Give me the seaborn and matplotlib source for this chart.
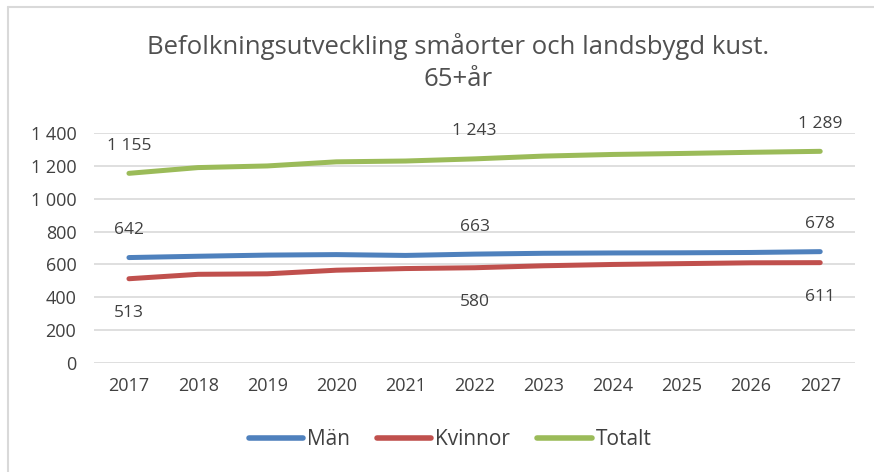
import pandas as pd
import seaborn as sns
import matplotlib.pyplot as plt
from matplotlib.lines import Line2D

years = [2017, 2018, 2019, 2020, 2021, 2022, 2023, 2024, 2025, 2026, 2027]
man = [642, 650, 657, 660, 655, 663, 668, 670, 671, 673, 678]
kvinnor = [513, 540, 543, 565, 575, 580, 592, 600, 605, 610, 611]
totalt = [1155, 1190, 1200, 1225, 1230, 1243, 1260, 1270, 1276, 1283, 1289]
series = ['Män', 'Kvinnor', 'Totalt']
colors = ['#4F81BD', '#C0504D', '#9BBB59']
yticks = [0, 200, 400, 600, 800, 1000, 1200, 1400]
label_years = [2017, 2022, 2027]

sns.set_style('white')
plt.rcParams['font.family'] = ['Open Sans', 'DejaVu Sans']
txt = '#404040'

df = pd.DataFrame({'År': years * 3,
                   'Antal': man + kvinnor + totalt,
                   'Serie': [s for s in series for _ in years]})
df['pos'] = df['År'] - years[0]

fig = plt.figure(figsize=(8.74, 4.72), dpi=100)
ax = fig.add_axes([0.108, 0.231, 0.87, 0.487])

sns.lineplot(data=df, x='pos', y='Antal', hue='Serie', palette=colors,
             linewidth=3.6, ax=ax, legend=False, solid_capstyle='round')

# data labels
fmt = lambda v: f'{v:,}'.replace(',', ' ')
for s, vals, off, va in [('Män', man, 14, 'bottom'), ('Kvinnor', kvinnor, -19, 'top'),
                         ('Totalt', totalt, 14, 'bottom')]:
    for y in label_years:
        i = years.index(y)
        ax.annotate(fmt(vals[i]), (i, vals[i]), xytext=(0, off), textcoords='offset points',
                    ha='center', va=va, fontsize=12.5, color=txt)

ax.set_xlim(-0.5, len(years) - 0.5)
ax.set_ylim(0, 1400)
ax.set_xticks(range(len(years)))
ax.set_xticklabels([str(y) for y in years])
ax.set_yticks(yticks)
ax.set_yticklabels([fmt(v) for v in yticks])
ax.tick_params(axis='both', length=0, labelsize=13, labelcolor=txt)
ax.tick_params(axis='y', pad=13)
ax.tick_params(axis='x', pad=10)
ax.yaxis.grid(True, color='#D9D9D9', linewidth=1.2)
ax.set_axisbelow(True)
for sp in ax.spines.values():
    sp.set_visible(False)
ax.set_xlabel('')
ax.set_ylabel('')

fig.suptitle('Befolkningsutveckling småorter och landsbygd kust.\n65+år',
             x=0.524, y=0.93, fontsize=18.5, color='#505050', linespacing=1.38)

handles = [Line2D([0], [0], color=c, lw=4, solid_capstyle='round') for c in colors]
fig.legend(handles, series, loc='center', bbox_to_anchor=(0.515, 0.068), ncol=3,
           frameon=False, fontsize=15, handlelength=2.6, handletextpad=0.2,
           columnspacing=1.3, labelcolor=txt)

# chart frame
fig.add_artist(Line2D([0.009, 0.009], [0, 0.985], color='#D9D9D9', lw=1.5, transform=fig.transFigure))
fig.add_artist(Line2D([0.009, 1], [0.985, 0.985], color='#D9D9D9', lw=1.5, transform=fig.transFigure))

fig.savefig('out.png', dpi=100, facecolor='white')
